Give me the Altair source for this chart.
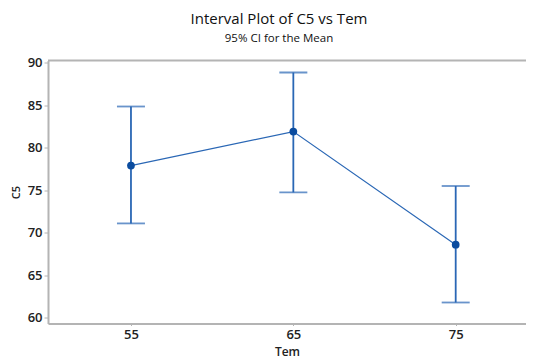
import altair as alt
import pandas as pd

tem = [55, 65, 75]
mean = [77.9, 81.9, 68.6]
lower = [71.1, 74.75, 61.8]
upper = [84.85, 88.85, 75.5]

df = pd.DataFrame({"Tem": tem, "mean": mean, "lower": lower, "upper": upper})

W = 478
H = 263
BLUE = "#2a67b5"
DARK = "#0b4c9f"
GRID = "#b4b4b4"
FONT = "Open Sans"

xs = alt.Scale(domain=[49.89, 79.33], nice=False, zero=False)
ys = alt.Scale(domain=[59.33, 90.26], nice=False, zero=False)

x_axis = alt.Axis(values=tem, title="Tem", grid=False, domainColor=GRID, domainWidth=2,
                  tickColor=GRID, tickSize=2, labelFontSize=13, labelFontWeight=600,
                  labelColor="#222", labelPadding=3, titleFontSize=12, titleFontWeight=600,
                  titleColor="#222", titlePadding=5, labelFont=FONT, titleFont=FONT)
y_axis = alt.Axis(values=[60, 65, 70, 75, 80, 85, 90], title="C5", grid=False, domainColor=GRID,
                  domainWidth=2, tickColor=GRID, tickSize=4, labelFontSize=13, labelFontWeight=600,
                  labelColor="#222", labelPadding=2, titleFontSize=11, titleFontWeight=600,
                  titleColor="#222", titlePadding=6, labelFont=FONT, titleFont=FONT)

base = alt.Chart(df)

rules = base.mark_rule(color=BLUE, strokeWidth=1.8).encode(
    x=alt.X("Tem:Q", scale=xs, axis=x_axis),
    y=alt.Y("lower:Q", scale=ys, axis=y_axis),
    y2="upper:Q",
)
cap_hi = base.mark_tick(color=BLUE, size=28, thickness=1.8, orient="horizontal").encode(
    x=alt.X("Tem:Q", scale=xs), y=alt.Y("upper:Q", scale=ys))
cap_lo = base.mark_tick(color=BLUE, size=28, thickness=1.8, orient="horizontal").encode(
    x=alt.X("Tem:Q", scale=xs), y=alt.Y("lower:Q", scale=ys))
line = base.mark_line(color=BLUE, strokeWidth=1.2).encode(
    x=alt.X("Tem:Q", scale=xs), y=alt.Y("mean:Q", scale=ys))
pts = base.mark_circle(color=DARK, size=60, opacity=1).encode(
    x=alt.X("Tem:Q", scale=xs), y=alt.Y("mean:Q", scale=ys))
top = alt.Chart(pd.DataFrame({"a": [0]})).mark_rule(color=GRID, strokeWidth=2).encode(
    x=alt.value(0), x2=alt.value(W), y=alt.value(0))

chart = alt.layer(top, rules, cap_hi, cap_lo, line, pts).properties(
    width=W, height=H,
    title=alt.TitleParams("Interval Plot of C5 vs Tem", subtitle="95% CI for the Mean",
                          fontSize=15, subtitleFontSize=11.5, font=FONT, subtitleFont=FONT,
                          fontWeight=500, subtitleFontWeight=500, color="#111",
                          subtitleColor="#111", anchor="middle", frame="group", dx=-8,
                          offset=12, subtitlePadding=6),
    autosize=alt.AutoSizeParams(type="none"),
    padding={"left": 40, "top": 52.5, "right": 0, "bottom": 36},
).configure_view(stroke=None)

chart.save("out.html", embed_options={"renderer": "svg", "actions": False})
